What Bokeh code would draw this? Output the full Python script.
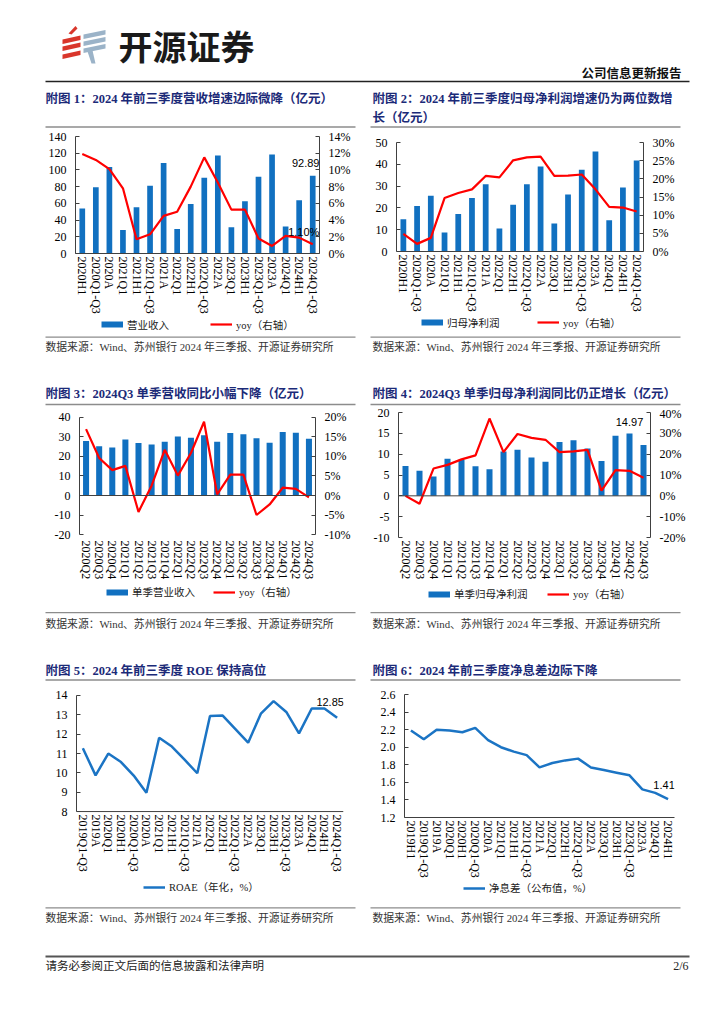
from bokeh.plotting import figure
from bokeh.models import (FactorRange, Range1d, LinearAxis, FixedTicker, PrintfTickFormatter,
                          Legend, LegendItem, LabelSet, ColumnDataSource, Span)
from bokeh.layouts import column, row
from bokeh.embed import file_html
from bokeh.resources import INLINE
from bokeh.core.properties import value

# ---------------- data ----------------
cum_periods = ["2020H1", "2020Q1-Q3", "2020A", "2021Q1", "2021H1", "2021Q1-Q3", "2021A",
               "2022Q1", "2022H1", "2022Q1-Q3", "2022A", "2023Q1", "2023H1", "2023Q1-Q3",
               "2023A", "2024Q1", "2024H1", "2024Q1-Q3"]
revenue = [53.7, 79.2, 103.4, 28.2, 55.3, 81.1, 108.2, 29.4, 59.3, 90.7, 117.3, 31.4, 62.4,
           91.9, 118.5, 32.2, 63.6, 92.89]
revenue_yoy = [11.9, 11.2, 10.1, 7.8, 1.7, 2.3, 4.5, 5.0, 8.0, 11.5, 8.5, 5.25, 5.25, 1.8,
               0.9, 2.1, 1.9, 1.10]
net_profit = [14.8, 20.9, 25.6, 8.7, 17.2, 24.5, 30.9, 10.5, 21.5, 30.9, 39.0, 12.8, 26.2,
              37.5, 45.9, 14.3, 29.4, 41.8]
net_profit_yoy = [4.85, 2.1, 3.75, 14.7, 16.1, 17.1, 20.8, 20.4, 25.1, 25.9, 26.1, 20.8, 20.9,
                  21.2, 17.1, 12.3, 12.1, 11.0]

quarters = ["2020Q2", "2020Q3", "2020Q4", "2021Q1", "2021Q2", "2021Q3", "2021Q4", "2022Q1",
            "2022Q2", "2022Q3", "2022Q4", "2023Q1", "2023Q2", "2023Q3", "2023Q4", "2024Q1",
            "2024Q2", "2024Q3"]
q_revenue = [27.9, 25.2, 24.6, 28.7, 26.9, 26.2, 27.5, 30.3, 29.6, 30.9, 27.5, 32.0, 31.4,
             29.4, 27.0, 32.5, 32.1, 29.1]
q_revenue_yoy = [17.0, 9.6, 6.5, 7.6, -4.2, 2.5, 11.7, 5.1, 10.9, 18.9, 0.3, 5.35, 5.35,
                 -5.0, -2.3, 2.0, 1.7, -0.5]
q_net_profit = [7.18, 6.0, 4.66, 8.92, 8.68, 7.1, 6.39, 10.66, 11.05, 9.23, 8.2, 12.95, 13.34,
                11.37, 8.37, 14.44, 14.97, 12.23]
q_net_profit_yoy = [0.0, -3.8, 13.1, 14.85, 17.5, 19.4, 37.1, 21.0, 29.7, 27.8, 26.9, 21.0,
                    21.3, 22.1, 2.5, 12.3, 12.0, 8.7]

roae_periods = ["2019Q1-Q3", "2019A", "2020Q1", "2020H1", "2020Q1-Q3", "2020A", "2021Q1",
                "2021H1", "2021Q1-Q3", "2021A", "2022Q1", "2022H1", "2022Q1-Q3", "2022A",
                "2023Q1", "2023H1", "2023Q1-Q3", "2023A", "2024Q1", "2024H1", "2024Q1-Q3"]
roae = [11.27, 9.87, 11.0, 10.56, 9.86, 8.97, 11.82, 11.36, 10.68, 9.98, 12.94, 12.96, 12.26,
        11.56, 13.06, 13.71, 13.15, 12.04, 13.33, 13.33, 12.85]

nim_periods = ["2019H1", "2019Q1-Q3", "2019A", "2020Q1", "2020H1", "2020Q1-Q3", "2020A",
               "2021Q1", "2021H1", "2021Q1-Q3", "2021A", "2022Q1", "2022H1", "2022Q1-Q3",
               "2022A", "2023Q1", "2023H1", "2023Q1-Q3", "2023A", "2024Q1", "2024H1"]
nim = [2.19, 2.09, 2.20, 2.19, 2.17, 2.22, 2.08, 2.00, 1.95, 1.91, 1.77, 1.82, 1.85, 1.87,
       1.77, 1.74, 1.71, 1.68, 1.52, 1.48, 1.41]

rev_ticks = [0, 20, 40, 60, 80, 100, 120, 140]
rev_yoy_ticks = [0, 2, 4, 6, 8, 10, 12, 14]
np_ticks = [0, 10, 20, 30, 40, 50]
np_yoy_ticks = [0, 5, 10, 15, 20, 25, 30]
qrev_ticks = [-20, -10, 0, 10, 20, 30, 40]
qrev_yoy_ticks = [-10, -5, 0, 5, 10, 15, 20]
qnp_ticks = [-10, -5, 0, 5, 10, 15, 20]
qnp_yoy_ticks = [-20, -10, 0, 10, 20, 30, 40]
roae_ticks = [8, 9, 10, 11, 12, 13, 14]
nim_ticks = [1.2, 1.4, 1.6, 1.8, 2.0, 2.2, 2.4, 2.6]

T1 = "附图 1：2024 年前三季度营收增速边际微降（亿元）"
T2a = "附图 2：2024 年前三季度归母净利润增速仍为两位数增"
T2b = "长（亿元）"
T3 = "附图 3：2024Q3 单季营收同比小幅下降（亿元）"
T4 = "附图 4：2024Q3 单季归母净利润同比仍正增长（亿元）"
T5 = "附图 5：2024 年前三季度 ROE 保持高位"
T6 = "附图 6：2024 年前三季度净息差边际下降"
SRC = "数据来源：Wind、苏州银行 2024 年三季报、开源证券研究所"
FOOT = "请务必参阅正文后面的信息披露和法律声明"

# ---------------- styles ----------------
MIX = "'Liberation Serif', 'Noto Sans CJK SC'"
NUM = "'Liberation Serif'"
SANS = "'Liberation Sans'"
BLUE = "#1170C0"
RED = "#FF0000"
LBLUE = "#1B74C4"
AXC = "#404040"
NAVY = "#1B2A78"
SEP = "#8c8c8c"
RED_W = 2.2
BLUE_W = 2.5

# layout: page-pixel rows (top, frame top, frame bottom, bottom)
ROW1 = (128, 136, 253, 316)
ROW2 = (406, 412, 538, 582)
ROW3 = (681, 694, 818, 880)


def fitted(vmin, vmax, px_min, px_max, rowspec):
    """Range such that vmin lands at page pixel px_min and vmax at px_max."""
    _, ft, fb, _ = rowspec
    s = (vmax - vmin) / (px_min - px_max)
    return Range1d(vmin - (fb - px_min) * s, vmax + (px_max - ft) * s)


def style_y(ax, ticks):
    ax.ticker = FixedTicker(ticks=ticks, minor_ticks=[])
    ax.bounds = (min(ticks), max(ticks))
    ax.axis_line_color = AXC
    ax.axis_line_width = 1
    ax.major_tick_line_color = AXC
    ax.major_tick_in = 4
    ax.major_tick_out = 0
    ax.minor_tick_line_color = None
    ax.major_label_text_font = NUM
    ax.major_label_text_font_size = "12px"
    ax.major_label_text_color = "#000000"
    ax.major_label_standoff = 9


def style_x(ax, standoff):
    ax.axis_line_color = AXC
    ax.axis_line_width = 1
    ax.major_tick_in = 0
    ax.major_tick_out = 0
    ax.minor_tick_line_color = None
    ax.major_label_orientation = "vertical"
    ax.major_label_text_font = NUM
    ax.major_label_text_font_size = "12px"
    ax.major_label_text_color = "#000000"
    ax.major_label_standoff = standoff


def chart(cats, rowspec, bl, br, yr, ticks, fmt, base=None, standoff=3):
    top, ft, fb, bottom = rowspec
    p = figure(x_range=FactorRange(factors=cats), y_range=yr, width=362, height=bottom - top,
               output_backend="svg", toolbar_location=None, title_location=None,
               min_border_left=bl, min_border_right=br, min_border_top=ft - top,
               min_border_bottom=bottom - fb,
               outline_line_color=None, border_fill_color="white", background_fill_color="white")
    p.xgrid.visible = False
    p.ygrid.visible = False
    ya = p.yaxis[0]
    ya.formatter = PrintfTickFormatter(format=fmt)
    style_y(ya, ticks)
    style_x(p.xaxis[0], standoff)
    if base is not None:
        # baseline drawn at a data value instead of the frame edge
        p.xaxis[0].axis_line_alpha = 0
        p.add_layout(Span(location=base, dimension="width", line_color=AXC, line_width=1))
    return p


def add_right(p, yr, ticks, fmt):
    p.extra_y_ranges = {"pct": yr}
    ax = LinearAxis(y_range_name="pct", formatter=PrintfTickFormatter(format=fmt))
    style_y(ax, ticks)
    p.add_layout(ax, "right")


def add_value_label(p, x, y, text, dx, dy, range_name="default"):
    src = ColumnDataSource(dict(x=[x], y=[y], t=[text]))
    ls = LabelSet(x="x", y="y", text="t", source=src, x_offset=dx, y_offset=dy,
                  y_range_name=range_name, text_align="center", text_baseline="middle",
                  text_font=value(SANS), text_font_size=value("11px"), text_color="#000000")
    p.add_layout(ls)


def bar_line_chart(cats, bars, line, rowspec, bl, br, yl, tl, fl, yr2, tr, fr, bar_w,
                   base=None, standoff=3):
    p = chart(cats, rowspec, bl, br, yl, tl, fl, base, standoff)
    add_right(p, yr2, tr, fr)
    p.vbar(x=cats, top=bars, width=bar_w, fill_color=BLUE, line_color=None)
    p.line(x=cats, y=line, y_range_name="pct", line_color=RED, line_width=RED_W)
    return p


# ---------------- charts ----------------
c1 = bar_line_chart(cum_periods, revenue, revenue_yoy, ROW1, 75, 43,
                    fitted(0, 140, 253, 136, ROW1), rev_ticks, "%d",
                    fitted(0, 14, 253, 136, ROW1), rev_yoy_ticks, "%d%%", 0.42)
add_value_label(c1, cum_periods[-1], revenue[-1], f"{revenue[-1]:.2f}", -7, 13)
add_value_label(c1, cum_periods[-1], revenue_yoy[-1], f"{revenue_yoy[-1]:.2f}%", -9, 12, "pct")

c2 = bar_line_chart(cum_periods, net_profit, net_profit_yoy, ROW1, 34, 81,
                    fitted(0, 50, 251, 142, ROW1), np_ticks, "%d",
                    fitted(0, 30, 251, 142, ROW1), np_yoy_ticks, "%d%%", 0.42,
                    base=0, standoff=1)

c3 = bar_line_chart(quarters, q_revenue, q_revenue_yoy, ROW2, 79, 47,
                    fitted(-20, 40, 535, 417, ROW2), qrev_ticks, "%d",
                    fitted(-10, 20, 535, 417, ROW2), qrev_yoy_ticks, "%d%%", 0.46, base=0)

c4 = bar_line_chart(quarters, q_net_profit, q_net_profit_yoy, ROW2, 36, 74,
                    fitted(-10, 20, 538, 412, ROW2), qnp_ticks, "%d",
                    fitted(-20, 40, 538, 412, ROW2), qnp_yoy_ticks, "%d%%", 0.43, base=0)
i_max = q_net_profit.index(max(q_net_profit))
add_value_label(c4, quarters[i_max], q_net_profit[i_max], f"{q_net_profit[i_max]:.2f}", 0, 11)

c5 = chart(roae_periods, ROW3, 76, 19, fitted(8, 14, 812, 695, ROW3), roae_ticks, "%d",
           base=8, standoff=-3)
c5.line(x=roae_periods, y=roae, line_color=LBLUE, line_width=BLUE_W)
add_value_label(c5, roae_periods[-1], roae[-1], f"{roae[-1]:.2f}", -7, 16)

c6 = chart(nim_periods, ROW3, 42, 50, fitted(1.2, 2.6, 818, 694, ROW3), nim_ticks, "%.1f")
c6.line(x=nim_periods, y=nim, line_color=LBLUE, line_width=BLUE_W)
add_value_label(c6, nim_periods[-1], nim[-1], f"{nim[-1]:.2f}", -4, 14)


# ---------------- page bands ----------------
def band(y0, y1):
    p = figure(width=724, height=int(y1 - y0), x_range=Range1d(0, 724), y_range=Range1d(y1, y0),
               output_backend="svg", toolbar_location=None, min_border=0, title_location=None,
               x_axis_type=None, y_axis_type=None, outline_line_color=None,
               border_fill_color="white", background_fill_color="white")
    return p


def txt(p, x, y, s, size, color="#000000", font=MIX, bold=False, align="left"):
    p.text(x=[x], y=[y], text=[s], text_font=value(font), text_font_size=value(size),
           text_font_style="bold" if bold else "normal", text_color=color,
           text_align=align, text_baseline="middle")


def hline(p, x0, x1, y, color=SEP, w=1.3):
    p.segment(x0=[x0], y0=[y], x1=[x1], y1=[y], line_color=color, line_width=w)


def sep_pair(p, y):
    hline(p, 45, 355, y)
    hline(p, 370, 680, y)


NAN = float("nan")


def leg(p, bottom, label, color, width, x, yc):
    r = p.line(x=[NAN], y=[NAN], line_color=color, line_width=width, line_cap="butt")
    lg = Legend(items=[LegendItem(label=label, renderers=[r])],
                location=(x, bottom - yc - 6), orientation="horizontal",
                padding=0, margin=0, spacing=0, border_line_color=None,
                background_fill_alpha=0, glyph_width=22, glyph_height=12, label_height=12,
                label_standoff=4, label_text_font=MIX, label_text_font_size="10.5px",
                label_text_color="#222222", label_text_baseline="middle")
    p.add_layout(lg)


f0 = band(0, 128)
# logo (decorative stripes)
red_xs, red_ys = [], []
for yc in [37.5, 44.5, 52.5]:
    red_xs.append([62, 80, 80, 62])
    red_ys.append([yc + 1.5, yc - 2.5, yc + 2, yc + 6])
red_xs.append([68, 75, 77, 71])
red_ys.append([33, 25.5, 28, 34])
f0.patches(xs=red_xs, ys=red_ys, fill_color="#D9362B", line_color=None)
g_xs, g_ys = [], []
for yc in [32.5, 39.5, 46.5]:
    g_xs.append([83, 105, 105, 83])
    g_ys.append([yc + 1.5, yc - 3, yc + 1.5, yc + 6])
g_xs.append([87, 92, 95, 91])
g_ys.append([51, 50, 63, 63])
f0.patches(xs=g_xs, ys=g_ys, fill_color="#9BB3C8", line_color=None)
txt(f0, 118, 45, "开源证券", "34px", "#1a1a1a", "'Noto Sans CJK SC'", bold=True)
txt(f0, 681, 73, "公司信息更新报告", "12.5px", "#111111", bold=True, align="right")
hline(f0, 45, 689, 81, "#222222", 1.6)
txt(f0, 45, 98, T1, "12.5px", NAVY, bold=True)
txt(f0, 372, 98, T2a, "12.5px", NAVY, bold=True)
txt(f0, 372, 117, T2b, "12.5px", NAVY, bold=True)
sep_pair(f0, 126.5)

f1 = band(316, 406)
leg(f1, 406, "营业收入", BLUE, 6, 101, 325.7)
leg(f1, 406, "yoy（右轴）", RED, RED_W, 210, 325.7)
leg(f1, 406, "归母净利润", BLUE, 6, 421, 323.7)
leg(f1, 406, "yoy（右轴）", RED, RED_W, 537, 323.7)
sep_pair(f1, 336.7)
txt(f1, 45, 346.5, SRC, "10.8px", "#333333")
txt(f1, 372, 346.5, SRC, "10.8px", "#333333")
txt(f1, 45, 393, T3, "12.5px", NAVY, bold=True)
txt(f1, 372, 393, T4, "12.5px", NAVY, bold=True)
sep_pair(f1, 404)

f2 = band(582, 681)
leg(f2, 681, "单季营业收入", BLUE, 6, 106, 593)
leg(f2, 681, "yoy（右轴）", RED, RED_W, 213, 593)
leg(f2, 681, "单季归母净利润", BLUE, 6, 428, 595)
leg(f2, 681, "yoy（右轴）", RED, RED_W, 547, 595)
sep_pair(f2, 612.2)
txt(f2, 45, 623, SRC, "10.8px", "#333333")
txt(f2, 372, 623, SRC, "10.8px", "#333333")
txt(f2, 45, 670, T5, "12.5px", NAVY, bold=True)
txt(f2, 372, 670, T6, "12.5px", NAVY, bold=True)
sep_pair(f2, 679.5)

f3 = band(880, 1016)
leg(f3, 1016, "ROAE（年化，%）", LBLUE, BLUE_W, 143, 888)
leg(f3, 1016, "净息差（公布值，%）", LBLUE, BLUE_W, 463, 889)
sep_pair(f3, 907.3)
txt(f3, 45, 917.5, SRC, "10.8px", "#333333")
txt(f3, 372, 917.5, SRC, "10.8px", "#333333")
hline(f3, 45, 689, 956, "#555555", 2)
txt(f3, 45, 965.5, FOOT, "11.5px", "#222222")
txt(f3, 688, 965.5, "2/6", "12px", "#222222", NUM, align="right")

layout = column(f0, row(c1, c2), f1, row(c3, c4), f2, row(c5, c6), f3)

open("out.html", "w").write(file_html(layout, INLINE))
